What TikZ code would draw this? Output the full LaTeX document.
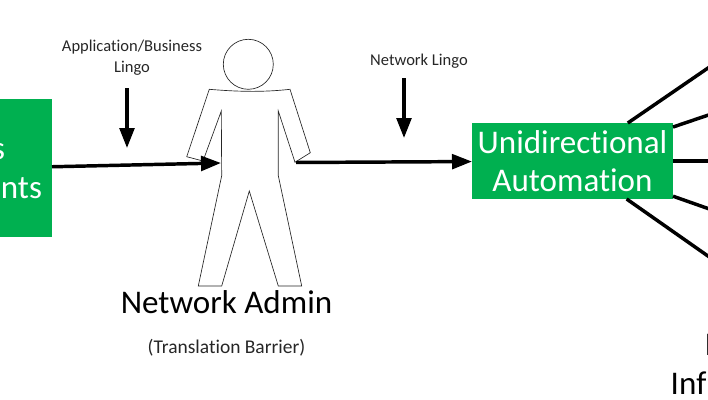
\documentclass[tikz,border=0pt]{standalone}
\usepackage{fontspec}
\setmainfont[Ligatures=NoCommon]{Carlito}
\usetikzlibrary{arrows.meta, positioning}
\definecolor{boxgreen}{HTML}{00B050}

\begin{document}
\begin{tikzpicture}[x=0.75pt,y=-0.75pt,>={Triangle[length=15pt,width=11pt]},line width=2.6pt]
    \tikzstyle{greenbox}=[fill=boxgreen,inner sep=0pt,outer sep=0pt,text=white,align=center,font=\fontsize{24.8}{29}\selectfont]
    \tikzstyle{bigtext}=[inner sep=0pt,font=\fontsize{24.8}{29}\selectfont]
    \tikzstyle{smalltext}=[inner sep=0pt,align=center,text=black!85,font=\fontsize{12.4}{15.5}\selectfont]
    \tikzstyle{outline}=[line width=0.5pt,black!85]
      \useasboundingbox (0,0) rectangle (708,400);
      \clip (0,0) rectangle (708,400);

      % free ends of the connectors
      \coordinate (hipleft)  at (221,163);
      \coordinate (handright) at (296,162.5);
      \coordinate (appsdownA) at (127,88);
      \coordinate (appsdownB) at (127,148);
      \coordinate (netdownA)  at (404,78);
      \coordinate (netdownB)  at (404,138);
      \coordinate (linkA) at (735,49.5);
      \coordinate (linkB) at (735,106);
      \coordinate (linkC) at (735,161);
      \coordinate (linkD) at (735,218);
      \coordinate (linkE) at (735,275);

      \node[greenbox,minimum width=84pt,minimum height=103.5pt] (apps) at (-4,168) {};
      \node[greenbox,minimum width=150.75pt,minimum height=57pt]  (auto) at (572.5,161) {Unidirectional\\Automation};
      \node[greenbox,fill=none,anchor=base east] (appsA) at (5,159)  {s};
      \node[greenbox,fill=none,anchor=base east] (appsB) at (42,198) {nts};

      \node[smalltext] (applingo) at (132,58) {Application/Business\\Lingo};
      \node[smalltext] (netlingo) at (419,61.5) {Network Lingo};
      \node[bigtext] (admin) at (226.5,302) {Network Admin};
      \node[smalltext,font=\fontsize{14.6}{15}\selectfont,below = 16.5pt of admin] (barrier) {(Translation Barrier)};
      \node[bigtext,anchor=base west] (infraA) at (703,355) {I};
      \node[bigtext,anchor=base west] (infraB) at (669,394) {Infr};

      % the person
      \node[outline,draw,circle,inner sep=0pt,minimum size=37.5pt] (head) at (248.3,64.3) {};
      \draw[outline] (209.3,89.3) .. controls (235,91.5) and (262,92.5) .. (290,89.3)
         -- (310.3,152.7) -- (295,162.3) -- (278.3,111) -- (278.3,175.7) -- (301.7,286) -- (278.3,286)
         -- (249.3,191) -- (221.7,286) -- (198.3,286) -- (221.7,175.7) -- (221.3,111) -- (203,161)
         -- (186.7,156.7) -- cycle;

      \draw (auto) -- (linkA);
      \draw (auto) -- (linkB);
      \draw (auto) -- (linkC);
      \draw (auto) -- (linkD);
      \draw (auto) -- (linkE);

      \draw[->] (apps) -- (hipleft);
      \draw[->] (handright) -- (auto);
      \draw[->] (appsdownA) -- (appsdownB);
      \draw[->] (netdownA) -- (netdownB);
    \end{tikzpicture}
\end{document}
